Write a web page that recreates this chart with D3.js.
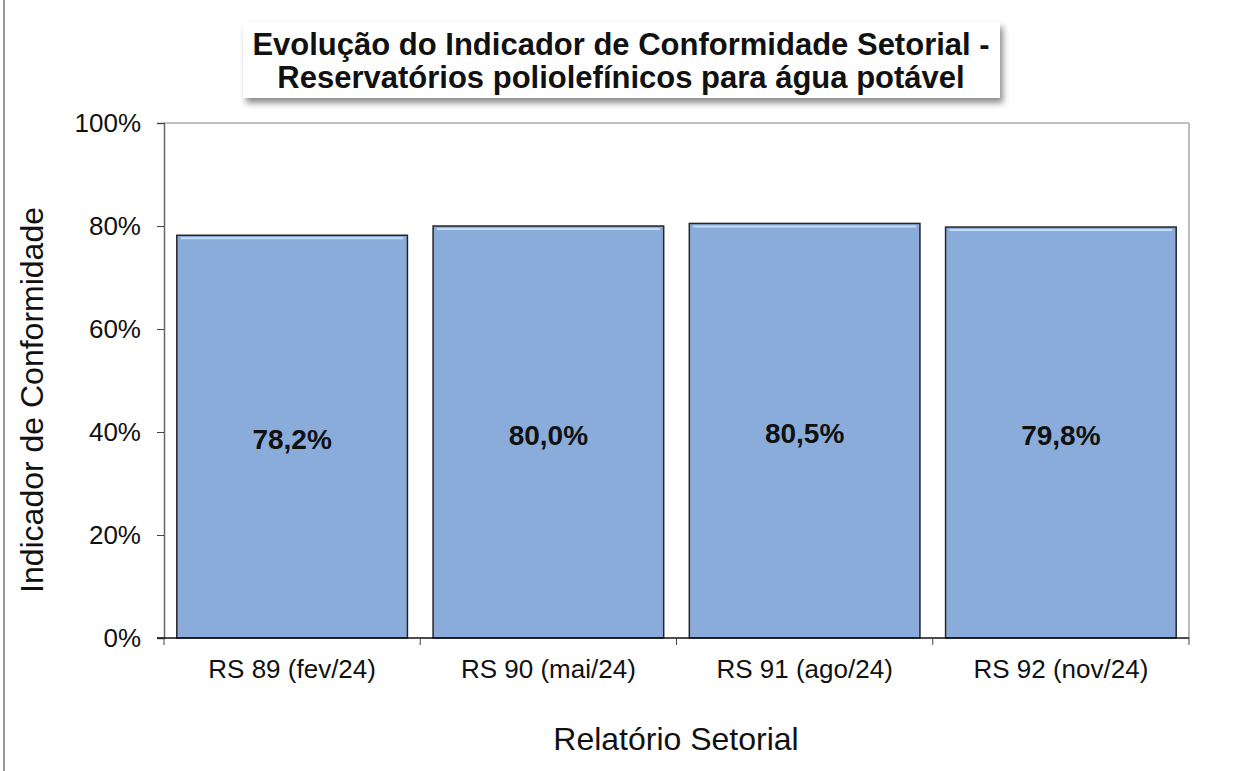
<!DOCTYPE html>
<html>
<head>
<meta charset="utf-8">
<script src="https://cdn.jsdelivr.net/npm/d3@7"></script>
<style>
  body { margin: 0; background: #fff; }
  svg { display: block; font-family: "Liberation Sans", Arial, sans-serif; }
</style>
</head>
<body>
<svg id="chart" width="1241" height="771"></svg>
<script>
// data
var categories = ["RS 89 (fev/24)", "RS 90 (mai/24)", "RS 91 (ago/24)", "RS 92 (nov/24)"];
var values = [78.2, 80.0, 80.5, 79.8];
var yTicks = [0, 20, 40, 60, 80, 100];
var titleLines = ["Evolução do Indicador de Conformidade Setorial -", "Reservatórios poliolefínicos para água potável"];

var svg = d3.select("#chart");
var pLeft = 164, pRight = 1189, pTop = 123, pBottom = 638;

var x = d3.scaleBand().domain(categories).range([pLeft, pRight]).paddingInner(0.1).paddingOuter(0.05);
var y = d3.scaleLinear().domain([0, 100]).range([pBottom, pTop]);

var defs = svg.append("defs");
var f = defs.append("filter").attr("id", "shadow").attr("x", "-5%").attr("y", "-20%").attr("width", "112%").attr("height", "160%");
f.append("feDropShadow").attr("dx", 3).attr("dy", 5).attr("stdDeviation", 3).attr("flood-color", "#000").attr("flood-opacity", 0.45);

// left page line
svg.append("line").attr("x1", 4).attr("x2", 4).attr("y1", 0).attr("y2", 771)
  .attr("stroke", "#999").attr("stroke-width", 2);

// plot frame (top and right)
svg.append("line").attr("x1", pLeft).attr("x2", pRight).attr("y1", pTop).attr("y2", pTop)
  .attr("stroke", "#aaa").attr("stroke-width", 1.5);
svg.append("line").attr("x1", pRight).attr("x2", pRight).attr("y1", pTop).attr("y2", pBottom)
  .attr("stroke", "#bbb").attr("stroke-width", 2);

// bars
var bars = svg.selectAll("g.bar").data(values).enter().append("g").attr("class", "bar");
bars.append("rect")
  .attr("x", function(d, i) { return x(categories[i]); })
  .attr("y", function(d) { return y(d); })
  .attr("width", x.bandwidth())
  .attr("height", function(d) { return pBottom - y(d); })
  .attr("fill", "#89acda")
  .attr("stroke", "#262626")
  .attr("stroke-width", 1.5);
bars.append("line")
  .attr("x1", function(d, i) { return x(categories[i]) + 4; })
  .attr("x2", function(d, i) { return x(categories[i]) + x.bandwidth() - 4; })
  .attr("y1", function(d) { return y(d) + 3; })
  .attr("y2", function(d) { return y(d) + 3; })
  .attr("stroke", "#c4dcf7").attr("stroke-width", 2);
bars.append("text")
  .attr("x", function(d, i) { return x(categories[i]) + x.bandwidth() / 2; })
  .attr("y", function(d) { return (y(d) + pBottom) / 2 + 3; })
  .attr("text-anchor", "middle")
  .attr("dominant-baseline", "central")
  .attr("font-size", 28).attr("font-weight", "bold").attr("fill", "#111")
  .text(function(d) { return d.toFixed(1).replace(".", ",") + "%"; });

// y axis
var yAxis = svg.append("g").attr("transform", "translate(" + pLeft + ",0)")
  .call(d3.axisLeft(y).tickValues(yTicks).tickSize(7).tickPadding(16).tickFormat(function(d) { return d + "%"; }));
yAxis.select(".domain").attr("stroke", "#666").attr("stroke-width", 1.5);
yAxis.selectAll(".tick line").attr("stroke", "#444");
yAxis.selectAll("text").attr("font-size", 26).attr("fill", "#111").attr("font-family", "Liberation Sans, Arial, sans-serif");

// x axis
var xAxis = svg.append("g").attr("transform", "translate(0," + pBottom + ")")
  .call(d3.axisBottom(x).tickSize(0).tickPadding(22));
xAxis.select(".domain").remove();
xAxis.selectAll("text").attr("font-size", 26).attr("fill", "#111").attr("font-family", "Liberation Sans, Arial, sans-serif");
svg.append("line").attr("x1", pLeft - 7).attr("x2", pRight).attr("y1", pBottom).attr("y2", pBottom)
  .attr("stroke", "#111").attr("stroke-width", 1.5);
var step = (pRight - pLeft) / categories.length;
svg.selectAll("line.xt").data(d3.range(categories.length + 1)).enter().append("line").attr("class", "xt")
  .attr("x1", function(i) { return pLeft + i * step; })
  .attr("x2", function(i) { return pLeft + i * step; })
  .attr("y1", pBottom).attr("y2", pBottom + 7)
  .attr("stroke", "#444");

// axis titles
svg.append("text").attr("transform", "translate(43,400) rotate(-90)")
  .attr("text-anchor", "middle").attr("font-size", 32).attr("fill", "#111")
  .text("Indicador de Conformidade");
svg.append("text").attr("x", 676).attr("y", 750)
  .attr("text-anchor", "middle").attr("font-size", 32).attr("fill", "#111")
  .text("Relatório Setorial");

// title box
svg.append("rect").attr("x", 243).attr("y", 22).attr("width", 757).attr("height", 76)
  .attr("fill", "#fff").attr("filter", "url(#shadow)");
svg.selectAll("text.title").data(titleLines).enter().append("text").attr("class", "title")
  .attr("x", 621).attr("y", function(d, i) { return 55 + i * 33; })
  .attr("text-anchor", "middle").attr("font-size", 31).attr("font-weight", "bold").attr("fill", "#111")
  .text(function(d) { return d; });
</script>
</body>
</html>
